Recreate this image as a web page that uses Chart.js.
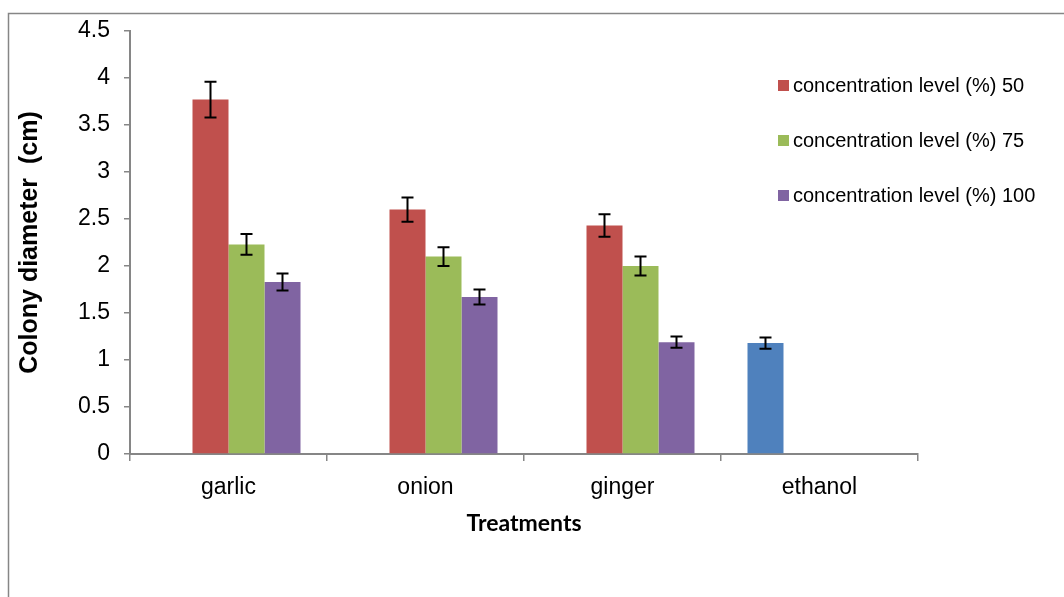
<!DOCTYPE html>
<html>
<head>
<meta charset="utf-8">
<script src="https://cdn.jsdelivr.net/npm/chart.js@4/dist/chart.umd.min.js"></script>
<style>
  html, body { margin: 0; padding: 0; background: #fff; }
  #wrap { width: 1064px; height: 597px; position: relative; }
</style>
</head>
<body>
<div id="wrap"><canvas id="grafico"></canvas></div>
<script>
// dados
const categorias = ['garlic', 'onion', 'ginger', 'ethanol'];
const rotulos = ['concentration level (%) 50', 'concentration level (%) 75', 'concentration level (%) 100'];
const conc50 = [3.77, 2.6, 2.43, null];
const conc75 = [2.23, 2.1, 2.0, null];
const conc100 = [1.83, 1.67, 1.19, null];
const etanol = [null, null, null, 1.18];
const erro50 = [0.19, 0.13, 0.12, null];
const erro75 = [0.11, 0.1, 0.1, null];
const erro100 = [0.09, 0.08, 0.06, null];
const erroEtanol = [null, null, null, 0.06];
const ticksY = [0, 0.5, 1, 1.5, 2, 2.5, 3, 3.5, 4, 4.5];

const cinza = '#868686';

// barras de erro
const barrasErro = {
    id: 'barrasErro',
    afterDatasetsDraw(chart) {
        const ctx = chart.ctx;
        const y = chart.scales.y;
        ctx.save();
        ctx.strokeStyle = '#000';
        ctx.lineWidth = 2;
        chart.data.datasets.forEach((ds, i) => {
            const meta = chart.getDatasetMeta(i);
            meta.data.forEach((bar, j) => {
                const v = ds.data[j];
                const e = ds.erros[j];
                if (v == null || e == null) return;
                const yt = y.getPixelForValue(v + e);
                const yb = y.getPixelForValue(v - e);
                ctx.beginPath();
                ctx.moveTo(bar.x, yt); ctx.lineTo(bar.x, yb);
                ctx.moveTo(bar.x - 6, yt); ctx.lineTo(bar.x + 6, yt);
                ctx.moveTo(bar.x - 6, yb); ctx.lineTo(bar.x + 6, yb);
                ctx.stroke();
            });
        });
        ctx.restore();
    }
};

// moldura e legenda
const moldura = {
    id: 'moldura',
    beforeDraw(chart) {
        const ctx = chart.ctx;
        ctx.save();
        ctx.strokeStyle = cinza;
        ctx.lineWidth = 1.5;
        ctx.beginPath();
        ctx.moveTo(8.5, 597);
        ctx.lineTo(8.5, 13.5);
        ctx.lineTo(1064, 13.5);
        ctx.stroke();
        ctx.restore();
    },
    afterDraw(chart) {
        const ctx = chart.ctx;
        ctx.save();
        ctx.font = '20px "Liberation Sans", Arial, sans-serif';
        ctx.textBaseline = 'middle';
        let linha = 0;
        chart.data.datasets.forEach(ds => {
            if (!ds.naLegenda) return;
            const yc = 85 + linha * 55;
            ctx.fillStyle = ds.backgroundColor;
            ctx.fillRect(778, yc - 5, 11, 11);
            ctx.fillStyle = '#000';
            ctx.fillText(ds.label, 793, yc + 1);
            linha++;
        });
        ctx.restore();
    }
};

new Chart(document.getElementById('grafico'), {
    type: 'bar',
    data: {
        labels: categorias,
        datasets: [
            { label: 'ethanol', data: etanol, erros: erroEtanol, backgroundColor: '#4F81BD', naLegenda: false },
            { label: rotulos[0], data: conc50, erros: erro50, backgroundColor: '#C0504D', naLegenda: true },
            { label: rotulos[1], data: conc75, erros: erro75, backgroundColor: '#9BBB59', naLegenda: true },
            { label: rotulos[2], data: conc100, erros: erro100, backgroundColor: '#8064A2', naLegenda: true }
        ]
    },
    options: {
        responsive: true,
        maintainAspectRatio: false,
        animation: false,
        categoryPercentage: 0.731,
        barPercentage: 1,
        layout: { padding: { top: 31, right: 146, bottom: 43, left: 0 } },
        plugins: {
            legend: { display: false },
            tooltip: { enabled: false }
        },
        scales: {
            x: {
                afterFit: s => { s.height = 100; },
                border: { display: true, color: cinza, width: 2 },
                grid: { display: true, drawOnChartArea: false, offset: true, color: cinza, lineWidth: 1.5, tickLength: 7 },
                ticks: { color: '#000', padding: 13, font: { family: '"Liberation Sans", Arial', size: 23 } },
                title: {
                    display: true, text: 'Treatments', color: '#000',
                    font: { family: 'Lato, "Liberation Sans"', size: 23, weight: 'bold' },
                    padding: { top: 0, bottom: 17 }
                }
            },
            y: {
                min: 0, max: 4.5,
                afterFit: s => { s.width = 130; },
                afterBuildTicks: s => { s.ticks = ticksY.map(v => ({ value: v })); },
                border: { display: true, color: cinza, width: 2 },
                grid: { display: true, drawOnChartArea: false, color: cinza, lineWidth: 1.5, tickLength: 6 },
                ticks: {
                    color: '#000', padding: 14,
                    font: { family: '"Liberation Sans", Arial', size: 23 },
                    callback: v => String(v)
                },
                title: {
                    display: true, text: 'Colony diameter  (cm)', color: '#000',
                    font: { family: '"Liberation Sans", Arial', size: 25, weight: 'bold' },
                    padding: { top: 15, bottom: 0 }
                }
            }
        }
    },
    plugins: [barrasErro, moldura]
});
</script>
</body>
</html>
